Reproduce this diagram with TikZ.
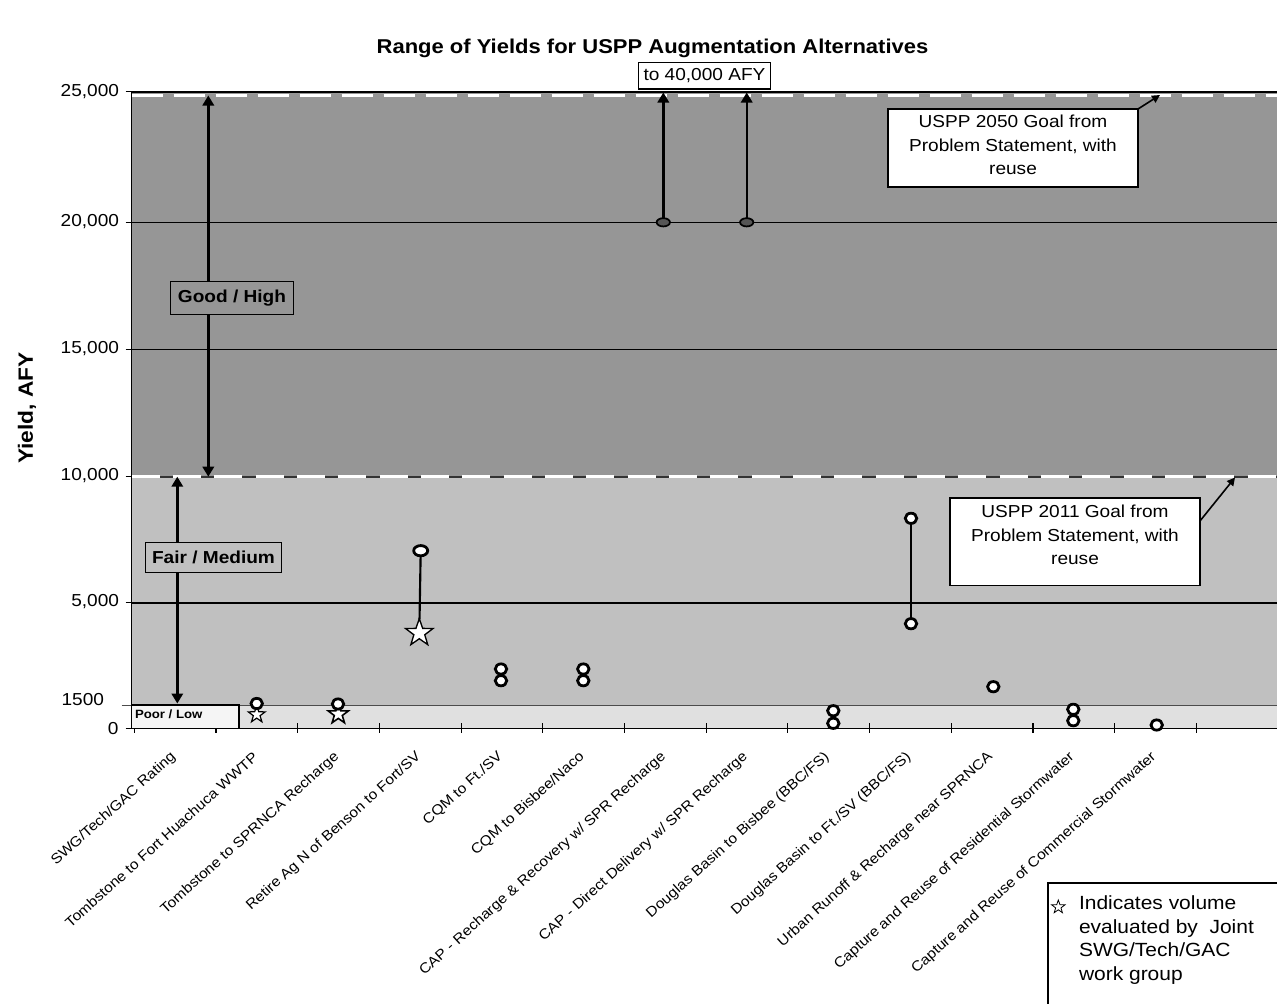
\documentclass[tikz,border=0pt]{standalone}
\usepackage{fontspec}
\setmainfont{Liberation Sans}[FakeStretch=1.1]
\usetikzlibrary{arrows.meta,shapes.geometric}
\definecolor{banddark}{HTML}{969696}
\definecolor{bandlight}{HTML}{C0C0C0}
\definecolor{bandpoor}{HTML}{E0E0E0}
\definecolor{ovalfill}{HTML}{555555}
\begin{document}
\begin{tikzpicture}[x=0.75pt,y=-0.75pt,
  every node/.style={inner sep=0pt, outer sep=0pt},
  ticklab/.style={font=\fontsize{13}{15}\selectfont, anchor=east},
  xlab/.style={font=\fontsize{10.6}{12}\selectfont, anchor=east, rotate=42},
  boxtxt/.style={font=\fontsize{13}{17.5}\selectfont, align=center},
  goalbox/.style={draw, fill=white, line width=0.8pt, minimum width=187.5pt},
  ratebox/.style={draw, line width=0.8pt, font=\bfseries\fontsize{13}{15}\selectfont},
  gridln/.style={line width=1.1pt},
  circ/.style={ellipse, draw, fill=white, line width=2.1pt, minimum width=8.6pt, minimum height=7.7pt},
  oval/.style={ellipse, draw, fill=ovalfill, line width=1.3pt, minimum width=10pt, minimum height=6.2pt},
  starm/.style={star, star points=5, star point ratio=2.5, draw, fill=white, line width=0.9pt},
  bigarrow/.style={line width=1.8pt, -{Triangle[length=7.5pt,width=8.5pt]}},
  dblarrow/.style={line width=1.8pt, {Triangle[length=7.5pt,width=8.5pt]}-{Triangle[length=7.5pt,width=8.5pt]}},
  thinarrow/.style={line width=1.2pt, -{Triangle[length=6pt,width=6pt]}},
  stem/.style={line width=1.6pt}]
\useasboundingbox (0,0) rectangle (1277,1003);
\fill[white] (0,0) rectangle (1277,1003);

% bands
\fill[banddark] (131.7,91.7) rectangle (1277,476.7);
\fill[bandlight] (131.7,476.7) rectangle (1277,705);
\fill[bandpoor] (131.7,705) rectangle (1277,728.5);
\draw[line width=0.6pt, black!70] (121.7,705) -- (1277,705);

% grid lines
\foreach \yy in {222.3,349.5,602.8} \draw[gridln] (131.7,\yy) -- (1277,\yy);

% 10,000 dashed line
\draw[line width=1.8pt, black!80] (131.7,476.7) -- (1277,476.7);
\draw[line width=2pt, white, dash pattern=on 21pt off 10pt] (131.7,476.7) -- (1277,476.7);

% 25,000 top
\draw[line width=1.3pt] (131.7,91.7) -- (1277,91.7);
\draw[line width=2.6pt, white, dash pattern=on 23.25pt off 8.25pt] (131.7,95.3) -- (1277,95.3);

% axes
\draw[line width=1.1pt] (131.7,91.7) -- (131.7,728.5) -- (1277,728.5);
\foreach \yy in {91.7,222.3,349.5,476.7,602.8,728.5} \draw[line width=0.8pt] (125.5,\yy) -- (131.7,\yy);
\foreach \k in {0,...,13} \draw[line width=0.8pt] ({134.3+81.7*\k},723) -- ({134.3+81.7*\k},733);

% tick labels
\node[ticklab] (y25) at (119,92) {25,000};
\node[ticklab] (y20) at (119,222) {20,000};
\node[ticklab] (y15) at (119,349) {15,000};
\node[ticklab] (y10) at (119,476) {10,000};
\node[ticklab] (y5) at (119,602) {5,000};
\node[ticklab] (y1500) at (104,700) {1500};
\node[ticklab] (y0) at (118.5,729) {0};

% titles
\node[font=\bfseries\fontsize{15.5}{18}\selectfont, rotate=90] (ytitle) at (27,408) {Yield, AFY};
\node[font=\bfseries\fontsize{15}{18}\selectfont] (title) at (652.5,48) {Range of Yields for USPP Augmentation Alternatives};

% rating arrows
\coordinate (ghT) at (208.3,95.5);
\coordinate (ghB) at (208.3,476.7);
\draw[dblarrow] (ghT) -- (ghB);
\coordinate (fmT) at (177.3,476.7);
\coordinate (fmB) at (177.3,703.5);
\draw[dblarrow] (fmT) -- (fmB);

% rating boxes
\node[ratebox, fill=banddark, minimum width=92pt, minimum height=24.2pt] (good) at (232,297.9) {Good / High};
\node[ratebox, fill=bandlight, minimum width=101.7pt, minimum height=22.8pt] (fair) at (213.5,557.5) {Fair / Medium};
\node[draw, line width=1.1pt, fill=black!4, minimum width=80.5pt, minimum height=17.6pt] (poor) at (185.35,716.75) {};
\node[font=\bfseries\fontsize{9}{10}\selectfont, anchor=west] (poortxt) at (135,714) {Poor / Low};

% goal boxes
\node[goalbox, minimum height=58.5pt] (g2050) at (1013,148) {};
\node[boxtxt] (t2050) at (1013,145) {USPP 2050 Goal from\\Problem Statement, with\\reuse};
\node[goalbox, minimum height=65.3pt] (g2011) at (1075,541.5) {};
\node[boxtxt] (t2011) at (1075,535) {USPP 2011 Goal from\\Problem Statement, with\\reuse};
\coordinate (a2050) at (1160,95);
\draw[thinarrow] (g2050.north east) -- (a2050);
\coordinate (a2011) at (1235,477.5);
\draw[thinarrow] ([yshift=-17.25pt]g2011.north east) -- (a2011);

% to 40,000 box
\node[draw, fill=white, line width=0.8pt, minimum width=98.5pt, minimum height=20.2pt, font=\fontsize{13}{15}\selectfont] (to40) at (704.5,75.5) {to 40,000 AFY};

% CAP ovals and arrows
\node[oval] (ov6) at (663.3,222.3) {};
\node[oval] (ov7) at (746.7,222.3) {};
\coordinate (ov6t) at (663.3,92.5);
\coordinate (ov7t) at (746.7,92.5);
\draw[bigarrow] (ov6) -- (ov6t);
\draw[bigarrow] (ov7) -- (ov7t);

% stars
\node[starm, minimum size=13.2pt] (s1) at (256.7,714.6) {};
\node[starm, minimum size=15.8pt, line width=1.2pt] (s2) at (338.3,714.2) {};
\node[starm, minimum size=21.5pt, line width=1pt] (s3) at (419.3,633) {};

% circles
\node[circ] (c1) at (256.7,703.5) {};
\node[circ] (c2) at (338,704) {};
\node[circ, minimum width=10.5pt] (c3) at (420.7,550.7) {};
\draw[stem] (c3) -- (s3);
\node[circ] (c4a) at (501,669) {};
\node[circ] (c4b) at (501,680.7) {};
\node[circ] (c5a) at (583.3,669) {};
\node[circ] (c5b) at (583.3,680.7) {};
\node[circ] (c8a) at (833.3,710.7) {};
\node[circ] (c8b) at (833.3,723.3) {};
\node[circ] (c9a) at (911,518.3) {};
\node[circ] (c9b) at (911,623.7) {};
\draw[stem] (c9a) -- (c9b);
\node[circ] (c10) at (993.3,686.7) {};
\node[circ] (c11a) at (1073.3,709.3) {};
\node[circ] (c11b) at (1073.3,720.7) {};
\node[circ] (c12) at (1156.7,725) {};

% x labels
\node[xlab] (xl0) at (173.7,755) {SWG/Tech/GAC Rating};
\node[xlab] (xl1) at (255.4,755) {Tombstone to Fort Huachuca WWTP};
\node[xlab] (xl2) at (337.1,755) {Tombstone to SPRNCA Recharge};
\node[xlab] (xl3) at (418.8,755) {Retire Ag N of Benson to Fort/SV};
\node[xlab] (xl4) at (500.5,755) {CQM to Ft./SV};
\node[xlab] (xl5) at (582.2,755) {CQM to Bisbee/Naco};
\node[xlab] (xl6) at (663.9,755) {CAP - Recharge \& Recovery w/ SPR Recharge};
\node[xlab] (xl7) at (745.6,755) {CAP - Direct Delivery w/ SPR Recharge};
\node[xlab] (xl8) at (827.3,755) {Douglas Basin to Bisbee (BBC/FS)};
\node[xlab] (xl9) at (909,755) {Douglas Basin to Ft./SV (BBC/FS)};
\node[xlab] (xl10) at (990.7,755) {Urban Runoff \& Recharge near SPRNCA};
\node[xlab] (xl11) at (1072.4,755) {Capture and Reuse of Residential Stormwater};
\node[xlab] (xl12) at (1154.1,755) {Capture and Reuse of Commercial Stormwater};

% legend
\node[draw, line width=0.8pt, anchor=north west, minimum width=181.5pt, minimum height=99pt] (legbox) at (1048,883) {};
\node[starm, minimum size=10.5pt, line width=0.6pt] (legstar) at (1058.3,907) {};
\node[font=\fontsize{14.3}{17.6}\selectfont, align=left, anchor=north west] (legtxt) at (1079,896) {Indicates volume\\evaluated by~ Joint\\SWG/Tech/GAC\\work group};
\end{tikzpicture}
\end{document}
